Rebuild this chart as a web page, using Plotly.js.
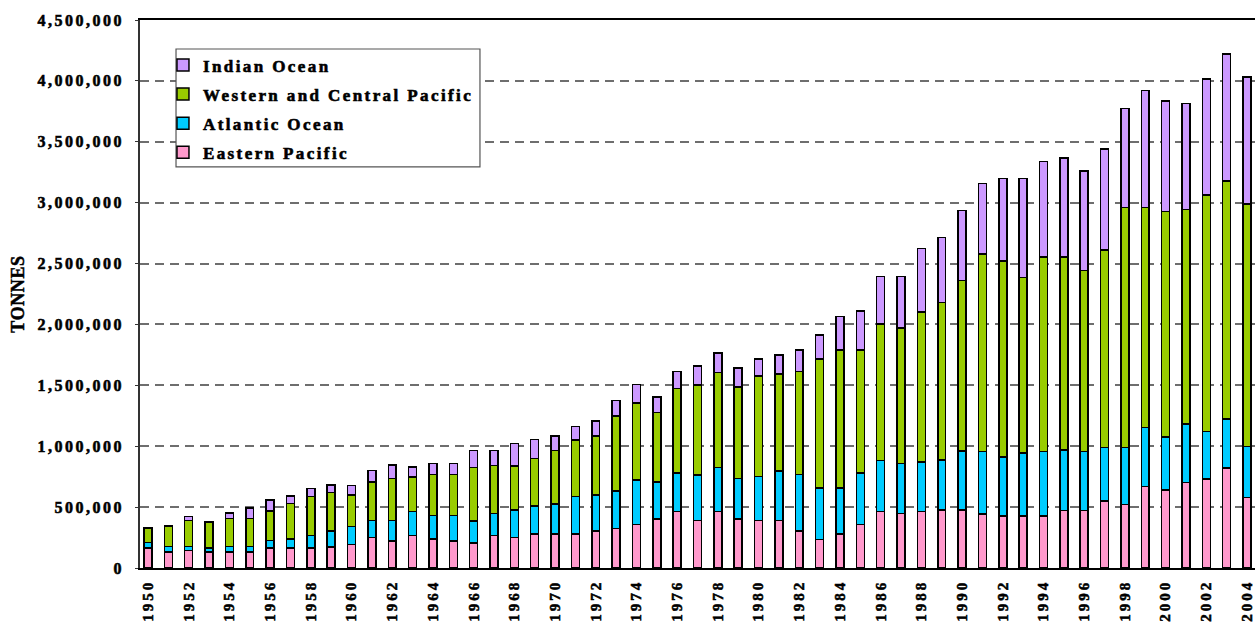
<!DOCTYPE html>
<html>
<head>
<meta charset="utf-8">
<script src="https://cdn.plot.ly/plotly-3.0.1.min.js"></script>
<style>
  html, body { margin: 0; padding: 0; background: #fff; }
  #chart { width: 1255px; height: 630px; }
  .xtick text { letter-spacing: 3px; font-weight: bold !important; stroke: #000; stroke-width: 0.55px; }
  .ytick text { letter-spacing: 2.5px; font-weight: bold !important; stroke: #000; stroke-width: 0.55px; }
  .legendtext { letter-spacing: 2.4px; font-weight: bold !important; stroke: #000; stroke-width: 0.6px; }
  .ytitle { letter-spacing: 0.6px; font-weight: bold !important; stroke: #000; stroke-width: 0.5px; }
</style>
</head>
<body>
<div id="chart"></div>
<script>
const years = [];
for (let y = 1950; y <= 2004; y++) years.push(y);

const tickYears = [1950,1952,1954,1956,1958,1960,1962,1964,1966,1968,1970,1972,1974,1976,1978,1980,1982,1984,1986,1988,1990,1992,1994,1996,1998,2000,2002,2004];

// values in thousands of tonnes
const easternPacific = [163,133,144,133,133,133,163,163,163,174,193,249,221,267,237,220,204,267,250,281,281,281,303,325,358,404,465,390,464,404,390,390,302,236,280,357,464,448,464,478,476,444,429,429,429,474,474,550,520,669,642,702,730,821,581];
const atlanticOcean = [47,44,33,33,44,44,64,75,105,130,149,141,168,198,195,212,184,182,228,228,245,305,297,308,363,303,316,374,363,332,360,407,464,423,379,423,420,409,407,407,484,514,484,514,529,493,484,438,468,484,435,480,392,404,417];
const westernCentralPacific = [119,168,215,207,229,229,240,290,318,315,257,315,348,283,336,336,437,393,360,391,437,465,484,616,633,572,694,739,780,750,827,797,846,1058,1132,1011,1118,1115,1233,1297,1400,1621,1606,1444,1597,1587,1487,1624,1971,1806,1852,1761,1943,1955,1992];
const indianOcean = [2,2,30,8,47,86,91,64,66,61,80,97,110,83,91,91,138,121,184,157,121,110,124,127,154,124,140,154,157,157,140,154,179,198,275,319,393,423,519,530,575,578,681,812,782,812,815,830,815,964,906,873,949,1040,1040];

const seriesNames = ["Eastern Pacific", "Atlantic Ocean", "Western and Central Pacific", "Indian Ocean"];
const seriesColors = ["#FF99CC", "#00CCFF", "#99CC00", "#CC99FF"];
const seriesData = [easternPacific, atlanticOcean, westernCentralPacific, indianOcean];
const legendRanks = [4, 3, 2, 1];

const traces = seriesData.map((vals, i) => ({
  type: 'bar',
  name: seriesNames[i],
  x: years,
  y: vals.map(v => v * 1000),
  legendgroup: 'g' + i,
  legendrank: legendRanks[i],
  marker: { color: seriesColors[i], line: { color: '#000000', width: 1.5 } },
  hoverinfo: 'x+y+name'
}));

const serif = 'Liberation Serif';

const layout = {
  width: 1255,
  height: 630,
  margin: { l: 140, r: 0, t: 20, b: 62 },
  paper_bgcolor: '#ffffff',
  plot_bgcolor: '#ffffff',
  barmode: 'stack',
  bargap: 0.61,
  showlegend: true,
  font: { family: serif, color: '#000000' },
  xaxis: {
    type: 'linear',
    range: [1949.607, 2004.393],
    tickmode: 'array',
    tickvals: tickYears,
    ticktext: tickYears.map(String),
    tickangle: -90,
    tickfont: { family: serif, size: 15, weight: 'bold', color: '#000' },
    ticks: '',
    ticklabelstandoff: 4,
    showgrid: false,
    zeroline: false,
    showline: true,
    mirror: true,
    linecolor: '#000000',
    linewidth: 1.5
  },
  yaxis: {
    range: [0, 4500000],
    tickvals: [0,500000,1000000,1500000,2000000,2500000,3000000,3500000,4000000,4500000],
    tickformat: ',d',
    tickfont: { family: serif, size: 16, weight: 'bold', color: '#000' },
    ticks: 'outside',
    ticklen: 3,
    tickcolor: '#333',
    ticklabelstandoff: 8,
    showgrid: true,
    gridcolor: '#6e6e6e',
    gridwidth: 1.5,
    griddash: '9px,6px',
    zeroline: false,
    showline: true,
    linecolor: '#333333',
    linewidth: 1.5,
    title: { text: 'TONNES', font: { family: serif, size: 18, weight: 'bold', color: '#000' }, standoff: 8 }
  },
  legend: {
    x: 0.0206,
    y: 0.95,
    xanchor: 'left',
    yanchor: 'top',
    bgcolor: 'rgba(0,0,0,0)',
    borderwidth: 0,
    tracegroupgap: 4,
    font: { family: serif, size: 17, weight: 'bold', color: '#000' }
  },
  shapes: [{
    type: 'rect',
    xref: 'paper', yref: 'paper',
    x0: 0.0323, x1: 0.3049,
    y0: 0.7318, y1: 0.9471,
    fillcolor: '#ffffff',
    line: { color: '#555555', width: 1.2 },
    layer: 'above'
  }]
};

Plotly.newPlot('chart', traces, layout, { displayModeBar: false, responsive: false });
</script>
</body>
</html>
